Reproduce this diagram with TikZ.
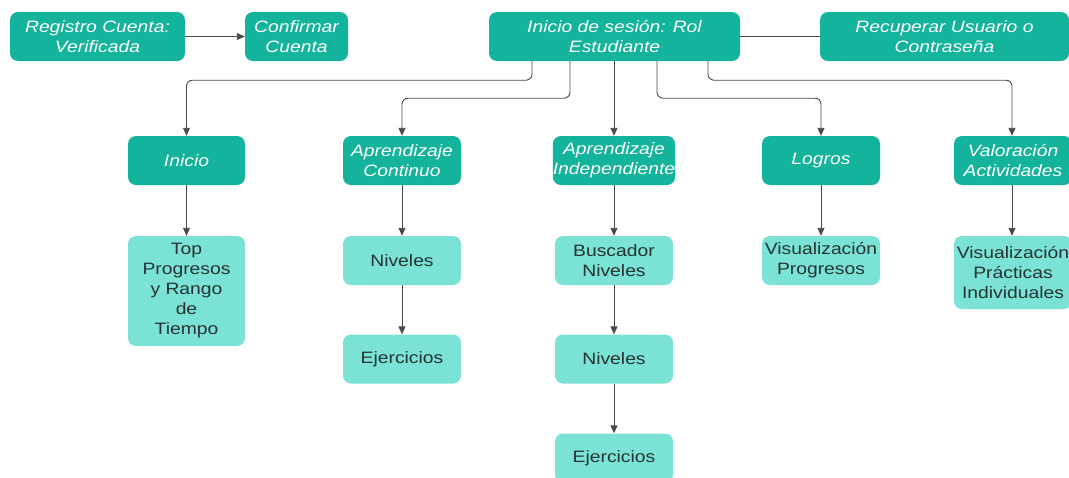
\documentclass[tikz,border=0pt]{standalone}
\usepackage{fontspec}
\setmainfont{Liberation Sans}[FakeStretch=1.17]
\usetikzlibrary{arrows.meta}
\definecolor{darkteal}{HTML}{14B39B}
\definecolor{lightteal}{HTML}{7AE3D6}
\definecolor{txtdark}{HTML}{263332}
\definecolor{linegray}{HTML}{4A4A4A}
\tikzset{
  dbox/.style={draw=none, fill=darkteal, rounded corners=8pt, inner sep=0pt,
    align=center, text=white, font=\fontsize{16.5}{20}\selectfont\itshape},
  lbox/.style={draw=none, fill=lightteal, rounded corners=8pt, inner sep=0pt,
    align=center, text=txtdark, font=\fontsize{16.5}{20}\selectfont},
  conn/.style={draw=linegray, line width=0.9pt, rounded corners=6pt,
    -{Triangle[length=8pt,width=7pt]}},
  plain/.style={draw=linegray, line width=0.9pt}
}
\begin{document}
\begin{tikzpicture}[x=1pt,y=-1pt]
\useasboundingbox (0,0) rectangle (1069,477);
% top row
\node[dbox, minimum width=175pt, minimum height=49pt] (reg) at (97.5,36.5) {Registro Cuenta:\\Verificada};
\node[dbox, minimum width=103pt, minimum height=49pt] (conf) at (296.5,36.5) {Confirmar\\Cuenta};
\node[dbox, minimum width=251pt, minimum height=49pt] (ses) at (614.5,36.5) {Inicio de sesión: Rol\\Estudiante};
\node[dbox, minimum width=249pt, minimum height=49pt] (rec) at (944.5,36.5) {Recuperar Usuario o\\Contraseña};
% second row
\node[dbox, minimum width=117pt, minimum height=49pt] (ini) at (186.5,160.5) {Inicio};
\node[dbox, minimum width=118pt, minimum height=49pt] (cont) at (402,160.5) {Aprendizaje\\Continuo};
\node[dbox, minimum width=118pt, minimum height=49pt] (ind) at (614,160.5) {Aprendizaje\\Independiente};
\node[dbox, minimum width=118pt, minimum height=49pt] (log) at (821,160.5) {Logros};
\node[dbox, minimum width=118pt, minimum height=49pt] (val) at (1013,160.5) {Valoración\\Actividades};
% third row
\node[lbox, minimum width=117pt, minimum height=110pt] (top) at (186.5,291) {Top\\Progresos\\y Rango\\de\\Tiempo};
\node[lbox, minimum width=118pt, minimum height=49pt] (niv1) at (402,260.5) {Niveles};
\node[lbox, minimum width=118pt, minimum height=49pt] (bus) at (614,260.5) {Buscador\\Niveles};
\node[lbox, minimum width=118pt, minimum height=49pt] (visp) at (821,260.5) {Visualización\\Progresos};
\node[lbox, minimum width=118pt, minimum height=73pt] (vispi) at (1013,272.5) {Visualización\\Prácticas\\Individuales};
% fourth row
\node[lbox, minimum width=118pt, minimum height=49pt] (ej1) at (402,359) {Ejercicios};
\node[lbox, minimum width=118pt, minimum height=49pt] (niv2) at (614,359) {Niveles};
\node[lbox, minimum width=118pt, minimum height=49pt] (ej2) at (614,458) {Ejercicios};
% connectors
\draw[conn] (reg) -- (conf);
\draw[plain] (ses) -- (rec);
\draw[conn] ([xshift=-82.5pt]ses.south) -- ++(0,19) -| (ini.north);
\draw[conn] ([xshift=-44.5pt]ses.south) -- ++(0,37) -| (cont.north);
\draw[conn] ([xshift=-0.5pt]ses.south) -- (ind.north);
\draw[conn] ([xshift=42.5pt]ses.south) -- ++(0,37) -| (log.north);
\draw[conn] ([xshift=93.5pt]ses.south) -- ++(0,19) -| ([xshift=-1pt]val.north);
\draw[conn] (ini) -- (top);
\draw[conn] (cont) -- (niv1);
\draw[conn] (niv1) -- (ej1);
\draw[conn] (ind) -- (bus);
\draw[conn] (bus) -- (niv2);
\draw[conn] (niv2) -- (ej2);
\draw[conn] (log) -- (visp);
\draw[conn] ([xshift=-1pt]val.south) -- ([xshift=-1pt]vispi.north);
\end{tikzpicture}
\end{document}
